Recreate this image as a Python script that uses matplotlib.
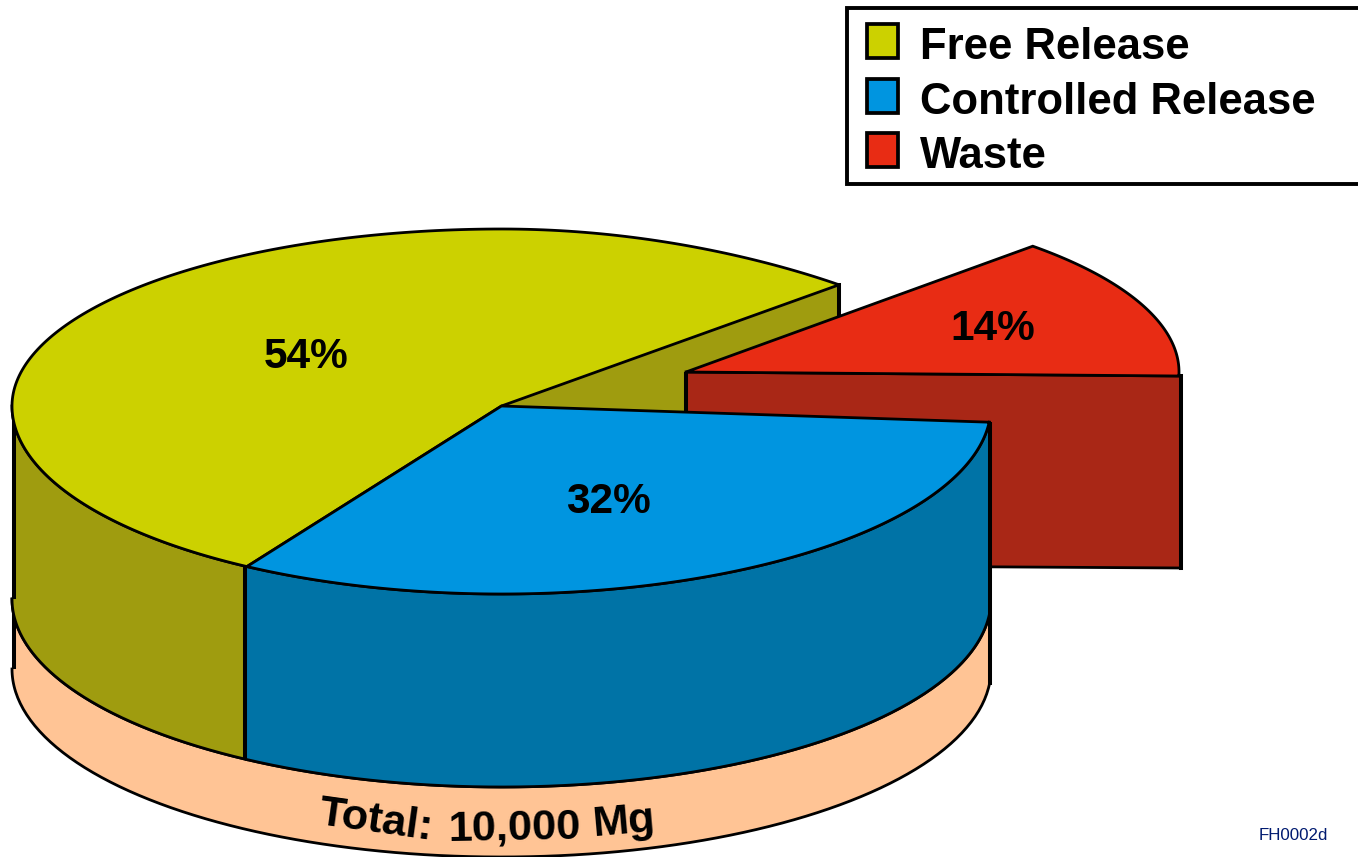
import numpy as np
import matplotlib
matplotlib.use("Agg")
import matplotlib.pyplot as plt
from matplotlib.patches import Polygon, Rectangle

plt.rcParams['font.family'] = ['Liberation Sans', 'DejaVu Sans']

labels = ['Free Release', 'Controlled Release', 'Waste']
shares = [54, 32, 14]
share_labels = ['54%', '32%', '14%']
top_colors = ['#CCD100', '#0095E0', '#E82C14']
side_colors = ['#9F9C0F', '#0073A6', '#A92716']
base_color = '#FFC495'
total_words = ['Total:', '10,000', 'Mg']
stamp = 'FH0002d'

# pie geometry, in figure pixels
cx, cy = 501.5, 406
rx, ry_back, ry_front = 489.5, 177, 188
depth, base_depth = 193, 70
start_angle = 46.4
# the drawing foreshortens the slices a little
sweep_scale = [0.989, 1.0104, 0.923]
red_top_angle = 45.3
red_shift = (184.5, -34)
red_rx = 493

thin = 2.0
thick = 2.9


def rim(a0, a1, drop=0, x0=cx, y0=cy, a=rx, n=200, flat_back=True):
    t = np.radians(np.linspace(a0, a1, n))
    s = np.sin(t)
    b = np.where(s > 0, ry_back, ry_front)
    y = y0 - b * s + drop
    if flat_back:
        # back right of the rim sits a little flatter
        deg = np.degrees(t)
        back = (deg > 0) & (deg < 90)
        y[back] += 7 * np.sin(2 * t[back]) ** 2
    return np.column_stack([x0 + a * np.cos(t), y])


def top_face(ax, a0, a1, color, z, x0=cx, y0=cy, a=rx, flat_back=True):
    pts = np.vstack([[x0, y0], rim(a0, a1, 0, x0, y0, a, flat_back=flat_back)])
    ax.add_patch(Polygon(pts, closed=True, fc=color, ec='black', lw=thin, joinstyle='miter', zorder=z))


def wall(ax, a0, a1, color, z, d0=0, d1=depth, nudge=(0, 0)):
    upper = rim(a0, a1, d0)
    lower = rim(a0, a1, d1)
    ax.add_patch(Polygon(np.vstack([upper, lower[::-1]]), closed=True, fc=color, ec='none', zorder=z))
    ax.plot(upper[:, 0], upper[:, 1], color='black', lw=thin, zorder=z + 0.1)
    ax.plot(lower[:, 0], lower[:, 1], color='black', lw=thin, zorder=z + 0.1)
    for (x, y), dx in zip((upper[0], upper[-1]), nudge):
        ax.plot([x + dx, x + dx], [y, y + d1 - d0], color='black', lw=thick, solid_capstyle='butt', zorder=z + 0.2)


fig = plt.figure(figsize=(13.58, 8.57), dpi=100)
ax = fig.add_axes([0, 0, 1, 1])
ax.set_xlim(0, 1358)
ax.set_ylim(857, 0)
ax.axis('off')

yellow_sweep = shares[0] * 3.6 * sweep_scale[0]
blue_sweep = shares[1] * 3.6 * sweep_scale[1]
red_sweep = shares[2] * 3.6 * sweep_scale[2]
yellow_end = start_angle + yellow_sweep
blue_end = yellow_end + blue_sweep

# cut face of the big slice, seen where the small one was pulled out
corner = rim(start_angle, start_angle, n=1)[0]
ax.add_patch(Polygon([[cx, cy], corner, corner + [0, depth], [cx, cy + depth]],
                     closed=True, fc=side_colors[0], ec='none', zorder=1))
ax.plot([corner[0], corner[0]], [corner[1], corner[1] + depth], color='black', lw=thick, zorder=1.1)

# exploded slice
rx0, ry0 = cx + red_shift[0], cy + red_shift[1]
red_low = red_top_angle - red_sweep
red_end = rim(red_low, red_low, 0, rx0, ry0, red_rx, n=1, flat_back=False)[0]
face_right = red_end + [2, 0]
ax.add_patch(Polygon([[rx0, ry0], face_right, face_right + [0, depth - 1], [rx0, ry0 + depth]],
                     closed=True, fc=side_colors[2], ec='black', lw=thin, zorder=2))
ax.plot([rx0, rx0], [ry0, ry0 + depth], color='black', lw=thick, solid_capstyle='butt', zorder=2.1)
ax.plot([face_right[0], face_right[0]], [face_right[1], face_right[1] + depth - 1], color='black', lw=thick, zorder=2.1)
top_face(ax, red_low, red_top_angle, top_colors[2], 3, rx0, ry0, red_rx, flat_back=False)

# base ring and outer walls
wall(ax, 180, blue_end, base_color, 4, depth, depth + base_depth, nudge=(1.5, 1))
wall(ax, 180, yellow_end, side_colors[0], 5, nudge=(1.5, 0))
wall(ax, yellow_end, blue_end, side_colors[1], 5.5, nudge=(-2, 1))

top_face(ax, start_angle, yellow_end, top_colors[0], 6)
top_face(ax, yellow_end, blue_end, top_colors[1], 6.5)

label_pos = [(306, 357), (608, 502), (993, 329)]
for txt, (x, y) in zip(share_labels, label_pos):
    ax.text(x, y, txt, fontsize=30.5, fontweight='bold', ha='center', va='center', zorder=8)

# total runs along the curve of the base
word_pos = [(376, 821, -8), (514, 828, 1), (624, 822, 5)]
for txt, (x, y, rot) in zip(total_words, word_pos):
    ax.text(x, y, txt, fontsize=31.2, fontweight='bold', ha='center', va='center',
            rotation=rot, rotation_mode='anchor', zorder=8)

# legend box runs off the right edge
ax.add_patch(Rectangle((847, 8), 560, 176, fc='white', ec='black', lw=2.8, zorder=9))
for i, (name, color) in enumerate(zip(labels, top_colors)):
    row = [59, 114, 168][i]
    ax.add_patch(Rectangle((866.5, row - 35), 31, 34, fc=color, ec='black', lw=2.7, zorder=10))
    ax.text(920, row, name, fontsize=31.4, fontweight='bold', ha='left', va='baseline', zorder=10)

ax.text(1293, 835, stamp, fontsize=12.2, color='#001A70', ha='center', va='center')

fig.savefig('out.png', dpi=100)
